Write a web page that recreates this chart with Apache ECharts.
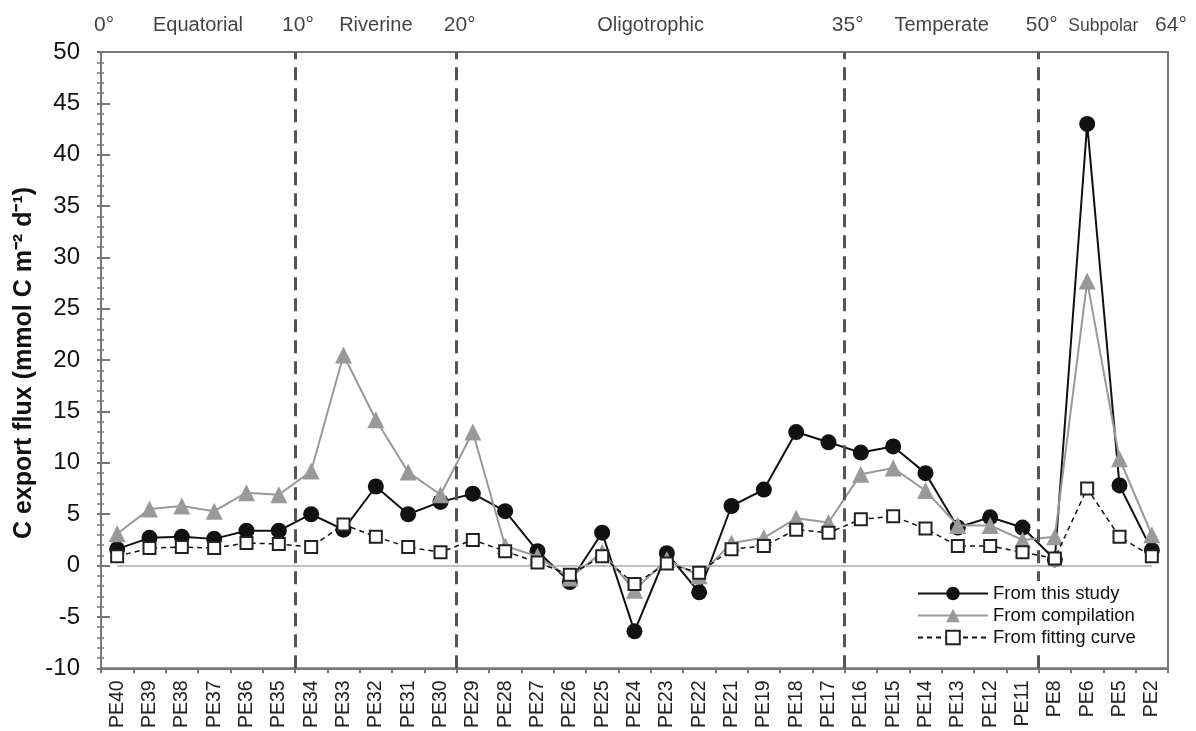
<!DOCTYPE html>
<html><head><meta charset="utf-8">
<script src="https://cdn.jsdelivr.net/npm/echarts@6/dist/echarts.min.js"></script>
<style>html,body{margin:0;padding:0;background:#fff}#c{width:1196px;height:731px}</style>
</head><body><div id="c"></div>
<script>
const categories = ['PE40','PE39','PE38','PE37','PE36','PE35','PE34','PE33','PE32','PE31','PE30','PE29','PE28','PE27','PE26','PE25','PE24','PE23','PE22','PE21','PE19','PE18','PE17','PE16','PE15','PE14','PE13','PE12','PE11','PE8','PE6','PE5','PE2'];
const thisStudy = [1.6,2.7,2.8,2.6,3.4,3.4,5.0,3.5,7.7,5.0,6.2,7.0,5.3,1.4,-1.6,3.2,-6.4,1.2,-2.6,5.8,7.4,13.0,12.0,11.0,11.6,9.0,3.7,4.7,3.7,0.6,43.0,7.8,1.5];
const compilation = [3.1,5.5,5.8,5.3,7.1,6.9,9.2,20.5,14.2,9.1,6.9,13.0,1.9,0.9,-1.2,1.3,-2.4,0.6,-1.0,2.2,2.7,4.6,4.2,8.9,9.5,7.3,3.9,3.9,2.5,2.8,27.7,10.4,3.0];
const fitting = [0.9,1.7,1.8,1.7,2.2,2.1,1.8,4.0,2.8,1.8,1.3,2.5,1.4,0.3,-0.9,0.9,-1.8,0.2,-0.7,1.6,1.9,3.5,3.2,4.5,4.8,3.6,1.9,1.9,1.3,0.7,7.5,2.8,0.9];
const yTicks = {min:-10, max:50, interval:5};
const zoneBoundaries = [6, 11, 23, 29];
const degreeLabels = [[0,'0°'],[6,'10°'],[11,'20°'],[23,'35°'],[29,'50°'],[33,'64°']];
const zoneNames = [[3,'Equatorial'],[8.5,'Riverine'],[17,'Oligotrophic'],[26,'Temperate'],[31,'Subpolar']];
const seriesNames = ['From this study','From compilation','From fitting curve'];
const yTitle = 'C export flux (mmol C m⁻² d⁻¹)';

const FONT = '"Liberation Sans", Arial, Helvetica, sans-serif';
const chart = echarts.init(document.getElementById('c'), null, {renderer:'canvas'});
const yBase = {type:'value', min:yTicks.min, max:yTicks.max, interval:yTicks.interval, position:'left', splitLine:{show:false}};
chart.setOption({
  animation:false,
  backgroundColor:'#fff',
  textStyle:{fontFamily:FONT},
  grid:{left:101, right:28, top:52, bottom:62, show:true, borderColor:'#777', borderWidth:2, containLabel:false},
  legend:{
    data:seriesNames, orient:'vertical', left:912, top:581, z:20,
    backgroundColor:'#fff', padding:[3,5,6,5],
    itemWidth:70, itemHeight:17, itemGap:3,
    textStyle:{fontSize:18.5, color:'#111', fontFamily:FONT}
  },
  graphic:[{type:'text', x:24, y:363, rotation:Math.PI/2, z:10,
    style:{text:yTitle, font:'bold 25px '+FONT, fill:'#111', align:'center', verticalAlign:'middle'}}],
  xAxis:[{
    type:'category', data:categories, boundaryGap:true,
    axisLine:{onZero:false, lineStyle:{color:'#777', width:2}},
    axisTick:{show:true, interval:0, length:5, lineStyle:{color:'#777', width:2}},
    axisLabel:{interval:0, rotate:90, fontSize:19.5, color:'#222', margin:12, fontFamily:FONT},
    splitLine:{show:false}
  },{
    type:'value', min:0, max:33, show:false, axisLine:{onZero:false}
  }],
  yAxis:[Object.assign({}, yBase, {
    axisLine:{show:true, onZero:false, lineStyle:{color:'#777', width:2}},
    axisTick:{show:true, inside:true, length:9, lineStyle:{color:'#777', width:2}},
    minorTick:{show:true, splitNumber:5, length:3, lineStyle:{color:'#777', width:1.5}},
    axisLabel:{fontSize:24, color:'#111', margin:21, fontFamily:FONT}
  }), Object.assign({}, yBase, {
    axisLine:{show:false, onZero:false},
    axisTick:{show:true, length:4, lineStyle:{color:'#777', width:2}},
    minorTick:{show:true, splitNumber:5, length:4, lineStyle:{color:'#777', width:1.5}},
    axisLabel:{show:false}
  })],
  series:[
    {
      name:seriesNames[0], type:'line', data:thisStudy, z:3,
      symbol:'circle', symbolSize:16,
      lineStyle:{color:'#111', width:2}, itemStyle:{color:'#111'},
      markLine:{silent:true, symbol:'none', label:{show:false},
        lineStyle:{color:'#aaa', width:1.5, type:'solid'},
        data:[[{coord:[categories[0],0]},{coord:[categories[categories.length-1],0]}]]}
    },
    {
      name:seriesNames[1], type:'line', data:compilation, z:4,
      symbol:'triangle', symbolSize:17,
      lineStyle:{color:'#999', width:2}, itemStyle:{color:'#999'}
    },
    {
      name:seriesNames[2], type:'line', data:fitting, z:5,
      symbol:'rect', symbolSize:12,
      lineStyle:{color:'#111', width:1.5, type:[5,4]},
      itemStyle:{color:'#fff', borderColor:'#222', borderWidth:2}
    },
    {
      type:'scatter', xAxisIndex:1, yAxisIndex:0, symbolSize:0, silent:true, z:6,
      data:degreeLabels.map(d=>({value:[d[0], yTicks.max], name:d[1]})),
      label:{show:true, position:'top', distance:16, offset:[3,0], formatter:p=>p.name, fontSize:21, color:'#111', fontFamily:FONT},
      markLine:{silent:true, symbol:'none', label:{show:false},
        lineStyle:{color:'#555', width:3, type:[13,8]},
        data:zoneBoundaries.map(b=>({xAxis:b}))}
    },
    {
      type:'scatter', xAxisIndex:1, yAxisIndex:0, symbolSize:0, silent:true, z:6,
      data:zoneNames.map(d=>({value:[d[0], yTicks.max], name:d[1],
        label:d[1]==='Subpolar'?{fontSize:17.5}:undefined})),
      label:{show:true, position:'top', distance:17, formatter:p=>p.name, fontSize:20, color:'#111', fontFamily:FONT}
    }
  ]
});
</script></body></html>
